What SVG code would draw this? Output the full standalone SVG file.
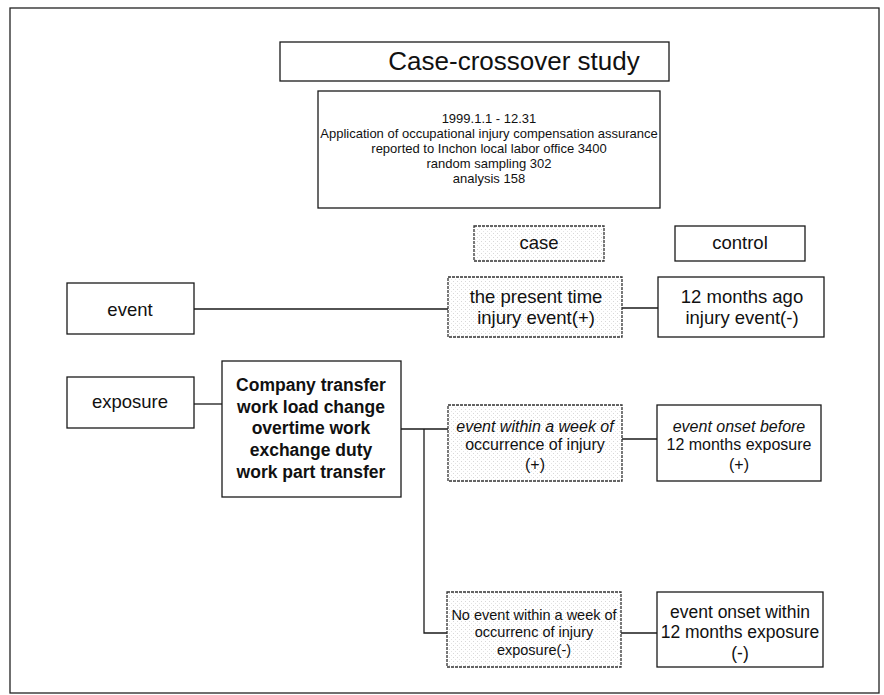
<svg xmlns="http://www.w3.org/2000/svg" width="884" height="695" viewBox="0 0 884 695">
<defs>
<pattern id="dots" width="4" height="4" patternUnits="userSpaceOnUse">
<rect width="4" height="4" fill="#ffffff"/>
<rect x="1" y="1" width="1" height="1" fill="#d8d8d8"/>
<rect x="3" y="3" width="1" height="1" fill="#e4e4e4"/>
</pattern>
<style>
.box{fill:#fff;stroke:#1a1a1a;stroke-width:1.3}
.dbox{fill:url(#dots);stroke:#333;stroke-width:1.3;stroke-dasharray:3 1}
.t{font-family:"Liberation Sans",Arial,sans-serif;fill:#111;text-anchor:middle}
.s13{font-size:13px}
.s14{font-size:14.5px}
.s16{font-size:16px}
.s17{font-size:17.5px}
.s18{font-size:18.5px}
.b{font-weight:bold;font-size:17.5px}
.i{font-style:italic}
.ln{stroke:#1a1a1a;stroke-width:1.3;fill:none}
</style>
</defs>
<rect x="0" y="0" width="884" height="695" fill="#fff"/>
<rect x="10" y="8" width="869" height="685" fill="none" stroke="#222" stroke-width="1.3"/>

<g id="connectors">
<line class="ln" x1="194" y1="309" x2="448" y2="309"/>
<line class="ln" x1="622" y1="308" x2="658" y2="308"/>
<line class="ln" x1="194" y1="404" x2="222" y2="404"/>
<polyline class="ln" points="401,429 448,429"/>
<polyline class="ln" points="424,429 424,633 447,633"/>
<line class="ln" x1="622" y1="439" x2="657" y2="439"/>
<line class="ln" x1="621" y1="633" x2="657" y2="633"/>
</g>

<g id="title">
<rect class="box" x="280" y="42" width="389" height="39"/>
<text class="t" x="514" y="70" style="font-size:26px">Case-crossover study</text>
</g>

<g id="info">
<rect class="box" x="318" y="91" width="342" height="117"/>
<text class="t s13" x="489" y="123">1999.1.1 - 12.31</text>
<text class="t s13" x="489" y="138">Application of occupational injury compensation assurance</text>
<text class="t s13" x="489" y="153">reported to Inchon local labor office 3400</text>
<text class="t s13" x="489" y="168">random sampling 302</text>
<text class="t s13" x="489" y="183">analysis 158</text>
</g>

<g id="case">
<rect class="dbox" x="474" y="226" width="130" height="35"/>
<text class="t s18" x="539" y="249">case</text>
</g>

<g id="control">
<rect class="box" x="675" y="226" width="130" height="35"/>
<text class="t s18" x="740" y="249">control</text>
</g>

<g id="event">
<rect class="box" x="67" y="283" width="127" height="51"/>
<text class="t s18" x="130" y="316">event</text>
</g>

<g id="exposure">
<rect class="box" x="67" y="377" width="127" height="51"/>
<text class="t s18" x="130" y="408">exposure</text>
</g>

<g id="present">
<rect class="dbox" x="448" y="277" width="174" height="60"/>
<text class="t s18" x="536" y="303">the present time</text>
<text class="t s18" x="536" y="324">injury event(+)</text>
</g>

<g id="ago">
<rect class="box" x="658" y="277" width="166" height="60"/>
<text class="t s18" x="742" y="303">12 months ago</text>
<text class="t s18" x="742" y="324">injury event(-)</text>
</g>

<g id="factors">
<rect class="box" x="222" y="361" width="179" height="136"/>
<text class="t b" x="311" y="391">Company transfer</text>
<text class="t b" x="311" y="413">work load change</text>
<text class="t b" x="311" y="434">overtime work</text>
<text class="t b" x="311" y="456">exchange duty</text>
<text class="t b" x="311" y="478">work part transfer</text>
</g>

<g id="within">
<rect class="dbox" x="448" y="405" width="174" height="76"/>
<text class="t s16 i" x="535" y="432">event within a week of</text>
<text class="t s16" x="535" y="450">occurrence of injury</text>
<text class="t s16" x="535" y="470">(+)</text>
</g>

<g id="before">
<rect class="box" x="657" y="405" width="164" height="76"/>
<text class="t s16 i" x="739" y="432">event onset before</text>
<text class="t s16" x="739" y="450">12 months exposure</text>
<text class="t s16" x="739" y="470">(+)</text>
</g>

<g id="noevent">
<rect class="dbox" x="447" y="592" width="174" height="75"/>
<text class="t s14" x="534" y="620">No event within a week of</text>
<text class="t s14" x="534" y="637">occurrenc of injury</text>
<text class="t s14" x="534" y="655">exposure(-)</text>
</g>

<g id="onsetwithin">
<rect class="box" x="657" y="592" width="166" height="75"/>
<text class="t s17" x="740" y="618">event onset within</text>
<text class="t s17" x="740" y="638">12 months exposure</text>
<text class="t s17" x="740" y="659">(-)</text>
</g>
</svg>
